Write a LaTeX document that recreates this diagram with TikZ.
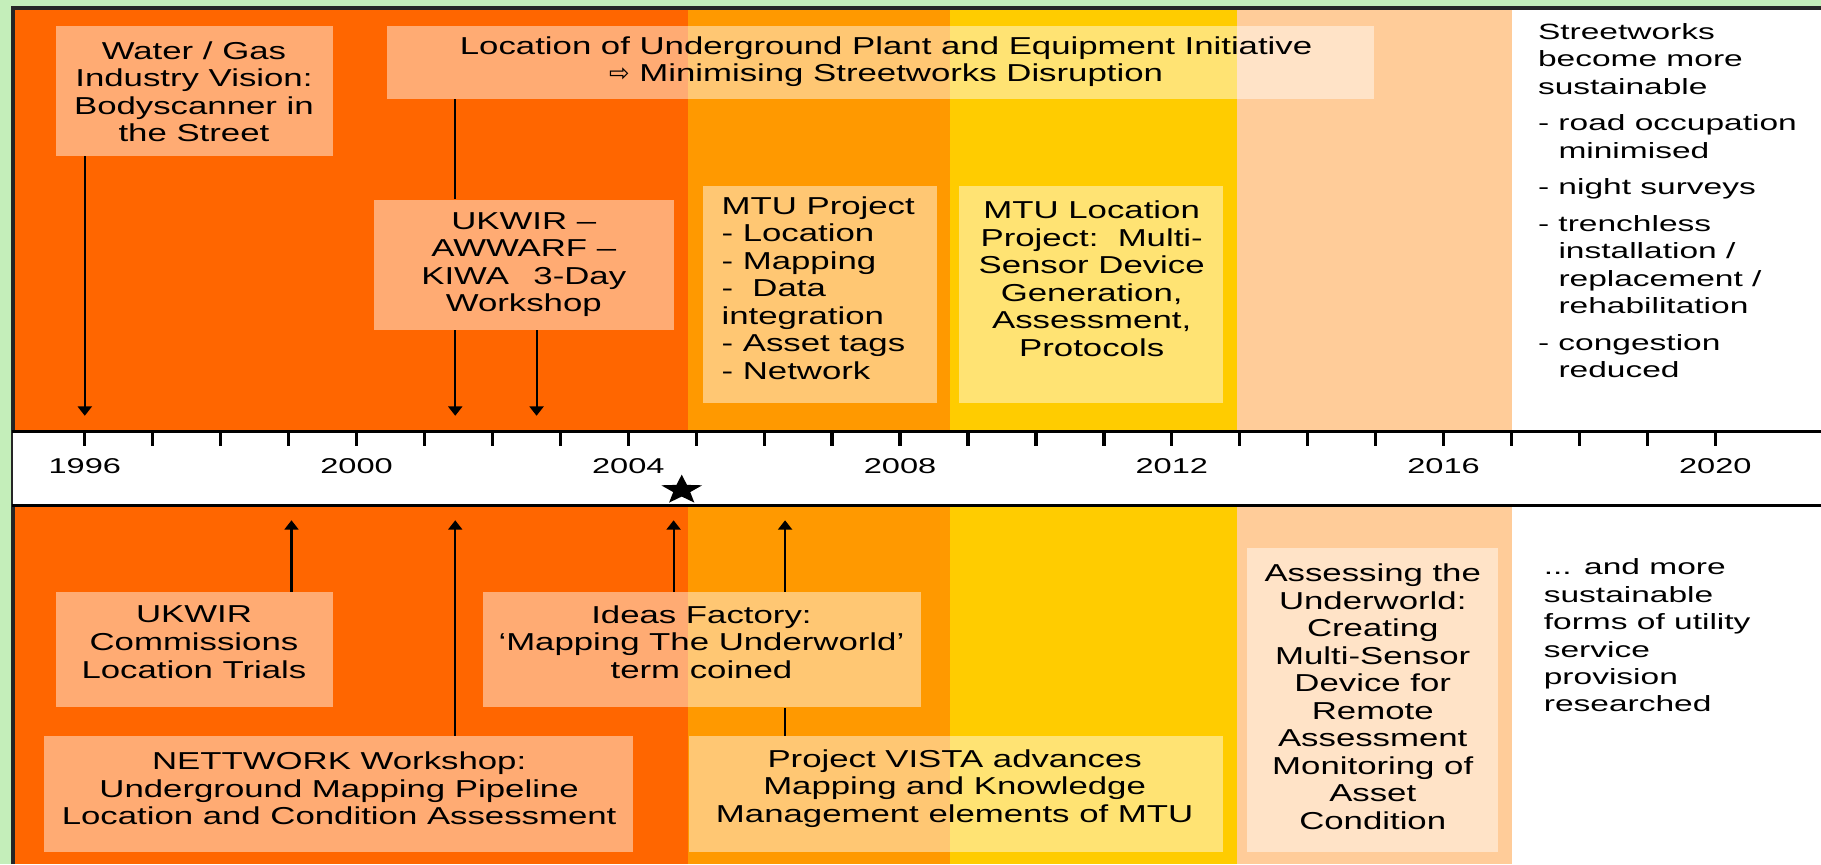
\documentclass[tikz,border=0pt]{standalone}
\usepackage{fontspec}
\setmainfont{Liberation Sans}[FakeStretch=1.42]
\newfontfamily\wfont{Liberation Sans}[FakeStretch=1.52]
\newfontfamily\symfont{DejaVu Sans}
\usetikzlibrary{arrows.meta,fit,shapes.geometric}
\definecolor{bgreen}{RGB}{196,238,186}
\definecolor{dorange}{RGB}{255,102,0}
\definecolor{morange}{RGB}{255,153,0}
\definecolor{goldc}{RGB}{255,204,0}
\definecolor{peach}{RGB}{255,204,153}
\begin{document}
\begin{tikzpicture}[x=0.02cm,y=-0.02cm,
  box/.style={fill=white, fill opacity=0.45, draw=none, inner sep=0pt},
  btxt/.style={font=\fontsize{12}{13.5}\selectfont, align=center, inner sep=0pt, text=black},
  wtxt/.style={font=\wfont\fontsize{10.8}{13.4}\selectfont, align=left, inner sep=0pt, anchor=north west},
  arr/.style={line width=1pt, -{Triangle[length=0.16cm,width=0.24cm]}},
  conn/.style={line width=1pt},
  tickmark/.style={line width=1.6pt},
  yr/.style={font=\wfont\fontsize{10.5}{12}\selectfont, inner sep=0pt}]
\useasboundingbox (0,0) rectangle (1568,744);
% background bands
\fill[bgreen] (0,0) rectangle (1568,744);
\fill[dorange] (11,7) rectangle (592,744);
\fill[morange] (592,7) rectangle (818,744);
\fill[goldc] (818,7) rectangle (1065,744);
\fill[peach] (1065,7) rectangle (1302,744);
\fill[white] (1302,7) rectangle (1568,744);
\draw[line width=1.8pt, black!85] (11,744) -- (11,7) -- (1568,7);

% timeline
\node[fill=white, draw=none, inner sep=0pt, fit={(11,372) (1568,435)}] (tl) {};
\draw[line width=1.6pt] (tl.north west) -- (tl.north east);
\draw[line width=1.6pt] (tl.south west) -- (tl.south east);
\foreach \k in {0,...,24} \draw[tickmark] (73+58.5*\k,372) -- ++(0,12);
\foreach \yr [count=\i from 0] in {1996,2000,2004,2008,2012,2016,2020}
  \node[yr] (y\yr) at (73+234*\i,401) {\yr};
\begin{scope}[shift={(587,422)}, yscale=0.72]
  \node[star, star points=5, star point ratio=2.4, fill=black, minimum size=0.74cm, inner sep=0pt, transform shape] (star) at (0,0) {};
\end{scope}

% top boxes
\node[box, fit={(48,22) (287,134)}] (water) {};
\node[btxt] (waterT) at (167,79) {Water / Gas\\Industry Vision:\\Bodyscanner in\\the Street};
\node[box, fit={(333,22) (1183,85)}] (loc) {};
\node[btxt] (locT) at (763,53) {Location of Underground Plant and Equipment Initiative\\{\symfont ⇨} Minimising Streetworks Disruption};
\node[box, fit={(322,172) (580,284)}] (ukwir) {};
\node[btxt] (ukwirT) at (451,228) {UKWIR –\\AWWARF –\\KIWA\quad 3-Day\\Workshop};
\node[box, fit={(605,160) (807,347)}] (mtup) {};
\node[btxt, align=left, anchor=west] (mtupT) at (621,248) {MTU Project\\- Location\\- Mapping\\-\ \ Data\\integration\\- Asset tags\\- Network};
\node[box, fit={(826,160) (1053,347)}] (mtul) {};
\node[btxt] (mtulT) at (940,240) {MTU Location\\Project:\ \ Multi-\\Sensor Device\\Generation,\\Assessment,\\Protocols};

\node[wtxt] (rtop) at (1324,20) {Streetworks\\become more\\sustainable\\[0.16cm]- road occupation\\\hphantom{-\ }minimised\\[0.16cm]- night surveys\\[0.16cm]- trenchless\\\hphantom{-\ }installation /\\\hphantom{-\ }replacement /\\\hphantom{-\ }rehabilitation\\[0.16cm]- congestion\\\hphantom{-\ }reduced};

% bottom boxes
\node[box, fit={(48,510) (287,609)}] (ukc) {};
\node[btxt] (ukcT) at (167,553) {UKWIR\\Commissions\\Location Trials};
\node[box, fit={(416,510) (793,609)}] (ideas) {};
\node[btxt] (ideasT) at (604,553) {Ideas Factory:\\‘Mapping The Underworld’\\term coined};
\node[box, fit={(38,634) (545,734)}] (nett) {};
\node[btxt] (nettT) at (292,679) {NETTWORK Workshop:\\Underground Mapping Pipeline\\Location and Condition Assessment};
\node[box, fit={(593,634) (1053,734)}] (vista) {};
\node[btxt] (vistaT) at (822,679) {Project VISTA advances\\Mapping and Knowledge\\Management elements of MTU};
\node[box, fit={(1074,472) (1290,734)}] (assess) {};
\node[btxt] (assessT) at (1182,600) {Assessing the\\Underworld:\\Creating\\Multi-Sensor\\Device for\\Remote\\Assessment\\Monitoring of\\Asset\\Condition};

\node[wtxt] (rbot) at (1329,481) {... and more\\sustainable\\forms of utility\\service\\provision\\researched};

% arrow end points
\coordinate (tA) at (73,358);
\coordinate (tB) at (392,358);
\coordinate (tC) at (462,358);
\coordinate (bA) at (251,448);
\coordinate (bB) at (392,448);
\coordinate (bC) at (580,448);
\coordinate (bD) at (676,448);

% connectors
\draw[arr] (water.south -| tA) -- (tA);
\draw[conn] (loc.south -| tB) -- (ukwir.north -| tB);
\draw[arr] (ukwir.south -| tB) -- (tB);
\draw[arr] (ukwir.south -| tC) -- (tC);
\draw[arr] (ukc.north -| bA) -- (bA);
\draw[arr] (nett.north -| bB) -- (bB);
\draw[arr] (ideas.north -| bC) -- (bC);
\draw[arr] (ideas.north -| bD) -- (bD);
\draw[conn] (vista.north -| bD) -- (ideas.south -| bD);
\end{tikzpicture}
\end{document}
